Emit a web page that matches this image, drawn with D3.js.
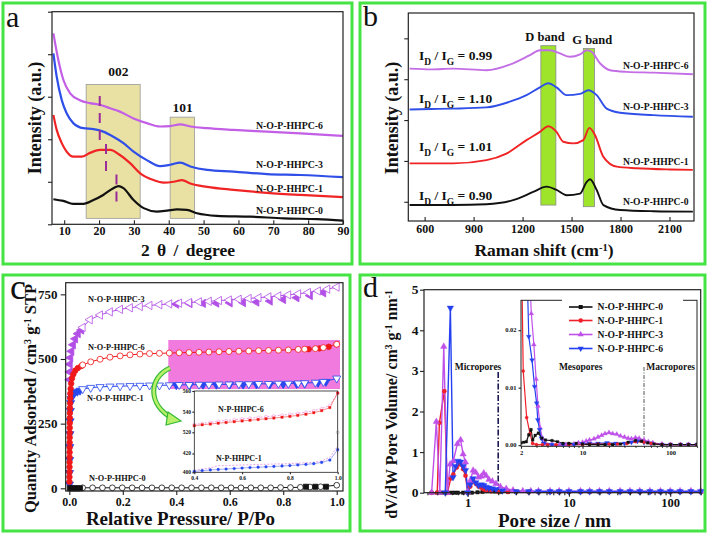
<!DOCTYPE html>
<html><head><meta charset="utf-8">
<script src="https://cdn.jsdelivr.net/npm/d3@7/dist/d3.min.js"></script>
<style>body{margin:0;background:#fff}svg{display:block}</style>
</head><body><svg id="fig" width="709" height="534"></svg>
<script>
// ---------------- DATA ----------------
// Panel a: XRD
const xrdNames = ["N-O-P-HHPC-6","N-O-P-HHPC-3","N-O-P-HHPC-1","N-O-P-HHPC-0"];
const xrd6 = [[6.9,4.49],[8.3,3.87],[9.75,3.40],[11.7,3.08],[14.5,2.92],[17.4,2.85],[20.3,2.81],[23.2,2.73],[26,2.65],[29.9,2.49],[33.7,2.38],[37.5,2.30],[40.4,2.31],[43.3,2.35],[46.2,2.30],[51,2.26],[58.6,2.22],[68.2,2.18],[77.8,2.14],[90,2.08]];
const xrd3 = [[6.9,4.02],[7.85,3.47],[9.3,2.92],[10.7,2.61],[12.6,2.38],[15.5,2.26],[18.4,2.24],[21.2,2.18],[24.1,2.06],[27,1.91],[29.9,1.71],[33.7,1.51],[37.5,1.37],[40.4,1.40],[43.3,1.45],[46.2,1.36],[51,1.28],[58.6,1.24],[68.2,1.18],[77.8,1.16],[90,1.11]];
const xrd1 = [[6.9,2.57],[7.85,2.22],[9.3,1.91],[10.7,1.71],[12.6,1.59],[15.0,1.59],[17.4,1.68],[20.3,1.75],[23.2,1.75],[26,1.63],[28.9,1.44],[31.8,1.20],[35.6,1.04],[38.5,0.98],[41.4,1.00],[43.8,1.04],[46.2,0.96],[51,0.88],[58.6,0.81],[68.2,0.74],[77.8,0.69],[90,0.64]];
const xrd0 = [[6.9,0.59],[9.75,0.55],[12.6,0.48],[15.5,0.48],[18.4,0.57],[21.2,0.69],[24.1,0.85],[25.6,0.90],[27,0.85],[29.9,0.57],[32.8,0.38],[36.6,0.30],[39.5,0.32],[42.4,0.35],[45.2,0.34],[48.1,0.26],[53.8,0.20],[63.4,0.18],[73,0.14],[82.6,0.12],[90,0.085]];
const xrdBoxes = [{label:"002", x0:16.3, x1:31.8, top:3.29, bottom:0.14}, {label:"101", x0:40.4, x1:47.4, top:2.52, bottom:0.14}];
const xrdPeakMarks = [[20.2,3.02,1.83],[22,1.89,1.18],[25,1.17,0.45]];
const xrdTicks = [10,20,30,40,50,60,70,80,90];

// Panel b: Raman
const ramanNames = ["N-O-P-HHPC-6","N-O-P-HHPC-3","N-O-P-HHPC-1","N-O-P-HHPC-0"];
const ramanRatios = ["0.99","1.10","1.01","0.90"];
const raman6 = [[508,4.26],[640,4.24],[774,4.26],[979,4.22],[1142,4.39],[1245,4.59],[1306,4.71],[1367,4.71],[1429,4.63],[1490,4.55],[1552,4.61],[1593,4.71],[1623,4.67],[1674,4.39],[1736,4.22],[1838,4.18],[2002,4.16],[2243,4.12]];
const raman3 = [[508,3.26],[640,3.27],[774,3.28],[979,3.31],[1122,3.45],[1224,3.61],[1306,3.80],[1357,3.90],[1408,3.80],[1470,3.61],[1552,3.64],[1603,3.73],[1654,3.61],[1715,3.28],[1797,3.18],[2002,3.12],[2243,3.08]];
const raman1 = [[508,1.94],[640,1.94],[774,1.94],[979,2.02],[1101,2.18],[1224,2.51],[1306,2.71],[1357,2.85],[1408,2.71],[1449,2.47],[1511,2.43],[1572,2.51],[1609,2.81],[1644,2.63],[1695,2.10],[1777,1.86],[1900,1.82],[2104,1.79],[2243,1.78]];
const raman0 = [[508,0.92],[640,0.92],[774,0.92],[979,0.94],[1142,1.04],[1265,1.24],[1347,1.37],[1408,1.29],[1470,1.16],[1552,1.20],[1593,1.49],[1613,1.55],[1654,1.29],[1695,0.92],[1797,0.80],[2002,0.77],[2243,0.76]];
const ramanBands = [{label:"D band", x0:1312, x1:1404, top:4.82, bottom:0.92},{label:"G band", x0:1572, x1:1640, top:4.75, bottom:0.88}];
const ramanTicks = [600,900,1200,1500,1800,2100];

// Panel c: N2 isotherms (P/Po, cm3/g)
const iso3Ads = [[0.0005,420],[0.001,450],[0.002,480],[0.004,505],[0.008,530],[0.014,555],[0.022,578],[0.032,598],[0.045,612],[0.4,712],[0.45,714],[0.5,715],[0.55,716],[0.6,717],[0.65,718],[0.7,720],[0.75,724],[0.8,730],[0.85,737],[0.9,745],[0.95,756]];
const iso3Des = [[0.05,622],[0.077,652],[0.115,670],[0.152,682],[0.19,692],[0.227,698],[0.264,703],[0.3,707],[0.337,710],[0.374,713],[0.411,716],[0.448,718],[0.485,721],[0.522,723],[0.56,726],[0.597,728],[0.634,731],[0.671,734],[0.708,737],[0.745,740],[0.782,744],[0.819,748],[0.856,752],[0.893,757],[0.93,763],[0.965,770],[1.0,778]];
const iso6Ads = [[0.0005,25],[0.0006,44],[0.0007,63],[0.0008,82],[0.0009,101],[0.001,120],[0.0011,139],[0.0012,158],[0.0013,177],[0.0014,196],[0.0015,215],[0.0016,234],[0.0018,253],[0.002,272],[0.0022,291],[0.0025,310],[0.003,329],[0.0035,348],[0.004,367],[0.005,385],[0.007,405],[0.01,425],[0.015,441],[0.022,455],[0.032,465],[0.045,473],[0.895,538],[0.935,541],[0.97,547],[1.0,557]];
const iso6Des = [[0.05,477],[0.08,489],[0.115,499],[0.152,507],[0.19,512],[0.227,516],[0.264,519],[0.3,521],[0.337,522],[0.374,523],[0.411,524],[0.448,525],[0.485,526],[0.522,527],[0.56,528],[0.597,529],[0.634,530],[0.671,531],[0.708,532],[0.745,533],[0.782,534],[0.819,535],[0.856,537],[0.88,538],[0.92,540],[0.95,544],[1.0,557]];
const iso1Ads = [[0.0005,15],[0.001,60],[0.0015,110],[0.002,160],[0.0025,210],[0.003,260],[0.004,300],[0.005,330],[0.006,345],[0.009,355],[0.014,363],[0.02,369],[0.03,374],[0.04,378],[0.4,399],[0.45,399],[0.5,400],[0.55,400],[0.6,401],[0.65,401],[0.7,402],[0.75,402],[0.8,403],[0.85,404],[0.88,405],[0.93,408],[0.96,412]];
const iso1Des = [[0.05,384],[0.08,389],[0.115,392],[0.152,394],[0.19,395],[0.227,396],[0.264,397],[0.3,398],[0.337,398],[0.374,399],[0.411,400],[0.448,400],[0.485,401],[0.522,401],[0.56,402],[0.597,402],[0.634,403],[0.671,403],[0.708,404],[0.745,404],[0.782,405],[0.819,405],[0.856,406],[0.88,407],[0.92,409],[0.95,412],[1.0,425]];
const iso0Ads = [[0.002,0],[0.01,0],[0.02,0],[0.03,0],[0.04,0],[0.885,6],[0.92,6],[0.96,6]];
const iso0Des = [[0.05,2],[0.087,2],[0.124,2],[0.161,2],[0.198,2],[0.235,2],[0.272,2],[0.309,2],[0.346,2],[0.383,2],[0.42,2],[0.457,2],[0.494,2],[0.531,2],[0.568,2],[0.605,2],[0.642,2],[0.679,2],[0.716,2],[0.753,2],[0.79,3],[0.827,3],[0.864,4],[0.9,5],[0.94,6],[1.0,12]];
const isoTicksX = [0,0.2,0.4,0.6,0.8,1.0];
const isoTicksY = [0,250,500,750];
// inset of panel c (upper: N-P-HHPC-6, lower: N-P-HHPC-1)
const insX = [0.4,0.433,0.467,0.5,0.533,0.567,0.6,0.633,0.667,0.7,0.733,0.767,0.8,0.833,0.867,0.9,0.933,0.967,1.0];
const ins6Ads = [526.4,527.3,528,528.8,529.5,530.3,531,531.7,532.4,533.1,533.8,534.6,535.4,536.4,537.5,539,541,544,558];
const ins6Des = [527.5,528.6,529.6,530.6,531.4,532.2,533,533.7,534.4,535.1,535.8,536.6,537.4,538.3,539.4,541,543,546,558];
const ins1Ads = [401,401.8,402.5,403,403.5,404,404.5,405,405.4,405.8,406.2,406.7,407.2,407.8,408.4,409.2,410.5,413,424];
const ins1Des = [402,403.5,404.8,407,407.2,407.5,407.8,408,408.3,408.5,408.8,409,409.3,409.7,410.1,410.5,412,416,428];

// Panel d: pore size distribution (nm, cm3/g/nm)
const psdNames = ["N-O-P-HHPC-0","N-O-P-HHPC-1","N-O-P-HHPC-3","N-O-P-HHPC-6"];
const psd0 = [[0.44,0],[0.5,0],[0.55,0],[0.6,0],[0.65,0],[0.7,0],[0.75,0],[0.8,0],[0.9,0],[1.0,0],[1.1,0],[1.25,0.01],[1.4,0.02],[1.55,0.04],[1.7,0.06],[1.85,0.03],[2.1,0.02],[2.5,0.02],[3,0.02],[4,0.02],[5,0.02],[6.5,0.02],[8,0.02],[10,0.02],[13,0.02],[16,0.02],[20,0.02],[25,0.02],[32,0.02],[40,0.02],[50,0.02],[63,0.02],[80,0.02],[100,0.02],[125,0.02],[160,0.02],[200,0.02]];
const psd1 = [[0.44,0],[0.5,0],[0.525,1.72],[0.588,2.5],[0.63,0],[0.68,0.35],[0.72,0.45],[0.78,0.62],[0.84,0.7],[0.9,0.58],[0.95,0.42],[1.0,0],[1.06,0.15],[1.13,0.28],[1.2,0.22],[1.28,0.15],[1.36,0.12],[1.44,0.08],[1.52,0.05],[1.7,0.03],[2.0,0.02],[2.5,0.02],[3,0.02],[4,0.02],[5,0.02],[6.5,0.02],[8,0.02],[10,0.02],[13,0.02],[16,0.02],[20,0.02],[25,0.02],[32,0.02],[40,0.02],[50,0.02],[63,0.02],[80,0.02],[100,0.02],[125,0.02],[160,0.02],[200,0.02]];
const psd3 = [[0.44,0],[0.49,1.75],[0.53,0],[0.58,3.6],[0.63,0],[0.67,0.7],[0.72,0.78],[0.79,1.2],[0.85,1.3],[0.9,0.95],[0.95,0.75],[1.0,0.02],[1.06,0.3],[1.13,0.55],[1.2,0.5],[1.28,0.38],[1.36,0.4],[1.44,0.48],[1.52,0.42],[1.62,0.32],[1.75,0.28],[1.9,0.22],[2.1,0.15],[2.4,0.1],[2.8,0.06],[3.5,0.04],[4.2,0.04],[5,0.04],[6.5,0.04],[8,0.04],[10,0.04],[13,0.04],[16,0.04],[20,0.04],[25,0.04],[32,0.04],[40,0.04],[50,0.04],[63,0.04],[80,0.04],[100,0.04],[125,0.04],[160,0.04],[200,0.04]];
const psd6 = [[0.6,0],[0.674,4.55],[0.716,0.38],[0.76,0.65],[0.8,0.78],[0.85,0.76],[0.9,0.65],[0.95,0.55],[1.0,0.0],[1.06,0.2],[1.13,0.35],[1.2,0.25],[1.28,0.18],[1.36,0.2],[1.44,0.18],[1.52,0.14],[1.62,0.12],[1.75,0.1],[1.9,0.08],[2.2,0.05],[3,0.03],[4,0.03],[5,0.03],[6.5,0.03],[8,0.03],[10,0.03],[13,0.03],[16,0.03],[20,0.03],[25,0.03],[32,0.03],[40,0.03],[50,0.03],[63,0.03],[80,0.03],[100,0.03],[125,0.03],[160,0.03],[200,0.03]];
// inset of panel d
const ipsd0 = [[2.0,0.0004],[2.15,0.0005],[2.3,0.0006],[2.45,0.0018],[2.6,0.0027],[2.72,0.0009],[2.9,0.0017],[3.15,0.0021],[3.45,0.0012],[3.8,0.0009],[4.5,0.0008],[5.2,0.0006],[6,0.0003],[7,0.0003],[8.5,0.0003],[10,0.0002],[12,0.0001],[15,0.0001],[18,0.0001],[22,0.0001],[27,0.0002],[33,0.0005],[40,0.0008],[47,0.0007],[55,0.0004],[65,0.0002],[80,0.0001],[100,0.0001],[130,0.0001],[160,0.0001],[200,0.0001]];
const ipsd1 = [[2.02,0.035],[2.12,0.0129],[2.32,0.0048],[2.53,0.002],[2.71,0.0003],[3,0.0001],[3.5,0.0001],[4,0.0001],[5,0.0001],[7,0.0001],[10,0.0001],[12,0.0002],[15,0.0002],[20,0.0002],[25,0.0002],[32,0.0003],[40,0.0006],[50,0.0005],[60,0.0003],[80,0.0001],[100,0.0001],[130,0.0001],[160,0.0001],[200,0.0001]];
const ipsd3 = [[2.5,0.03],[2.62,0.0229],[2.8,0.0175],[2.97,0.0115],[3.12,0.0068],[3.3,0.003],[3.5,0.0012],[3.8,0.0003],[4.5,0.0001],[5.5,0.0001],[6.5,0.0001],[8,0.0002],[9,0.0004],[10,0.0005],[11,0.0007],[12,0.0009],[13.5,0.0011],[15,0.0014],[16.5,0.0017],[18,0.002],[20,0.0022],[22,0.002],[24.5,0.0019],[27,0.0016],[30,0.0014],[33,0.0012],[36,0.0011],[40,0.0013],[44,0.0012],[50,0.0009],[56,0.0006],[63,0.0004],[80,0.0002],[100,0.0001],[130,0.0001],[160,0.0001],[200,0.0001]];
const ipsd6 = [[2.35,0.03],[2.45,0.0189],[2.67,0.0148],[2.85,0.0102],[3.01,0.0073],[3.1,0.0044],[3.25,0.0027],[3.4,0.0012],[3.6,0.0003],[4,0.0001],[4.5,0.0001],[6,0.0001],[8,0.0001],[10,0.0002],[12,0.0003],[15,0.0003],[19,0.0004],[24,0.0003],[30,0.0003],[36,0.0005],[42,0.0007],[50,0.0005],[60,0.0003],[80,0.0001],[100,0.0001],[130,0.0001],[160,0.0001],[200,0.0001]];
const psdTicksY = [0,1,2,3,4,5];
const psdMajor = [1,10,100];
const psdMinor = [0.4,0.5,0.6,0.7,0.8,0.9,2,3,4,5,6,7,8,9,20,30,40,50,60,70,80,90,200];
const ipsdTicksY = [0,0.01,0.02];

// ---------------- DRAWING ----------------
const FONT = "'Liberation Serif','Times New Roman',serif";
const svg = d3.select("#fig").attr("font-family", FONT).attr("font-weight","bold");
svg.append("rect").attr("width",709).attr("height",534).attr("fill","#fff");
const layerMarks = svg.append("g");
const layerText = svg.append("g");

const C = {purple:"#c25fe6", blue:"#2f4fe8", red:"#f02424", black:"#111"};

function frame(x0,y0,x1,y1,w){ layerMarks.append("rect").attr("x",x0).attr("y",y0).attr("width",x1-x0).attr("height",y1-y0).attr("fill","none").attr("stroke","#222").attr("stroke-width",w||1.2); }
function styleAxis(g, fs){ g.attr("font-family",FONT).attr("font-size",fs).attr("font-weight","bold"); g.selectAll("path").remove(); g.selectAll("line").attr("stroke","#222").attr("stroke-width",1.1); g.selectAll("text").attr("fill","#111"); return g; }
function axisG(tr){ return layerMarks.append("g").attr("transform",tr); }
function drawLine(g, data, xs, ys, color, w, curve, dash){ g.append("path").datum(data).attr("fill","none").attr("stroke",color).attr("stroke-width",w).attr("stroke-linejoin","round").attr("stroke-dasharray",dash||null).attr("d", d3.line().x(d=>xs(d[0])).y(d=>ys(d[1])).curve(curve||d3.curveLinear)); }
function drawMarks(g, data, xs, ys, type, size, fill, stroke, rot, sw){ g.selectAll(null).data(data).join("path").attr("d", d3.symbol().type(type).size(size)).attr("transform", d=>`translate(${xs(d[0])},${ys(d[1])}) rotate(${rot||0})`).attr("fill",fill).attr("stroke",stroke).attr("stroke-width",sw||0.8); }
function txt(x,y,s,fs,anchor,opts){ const t = layerText.append("text").attr("x",x).attr("y",y).attr("font-size",fs).attr("text-anchor",anchor||"start").attr("fill",(opts&&opts.fill)||"#111").text(s); if(opts&&opts.weight) t.attr("font-weight",opts.weight); return t; }
function yLabels(scale, values, xRight, fs, fmt){ values.forEach(v=>txt(xRight, scale(v)+fs*0.34, fmt(v), fs, "end")); }
function richText(x,y,parts,fs,anchor,rotate){ const t = layerText.append("text").attr("font-size",fs).attr("text-anchor",anchor||"middle").attr("fill","#111");
  if(rotate) t.attr("transform",`translate(${x},${y}) rotate(-90)`); else t.attr("x",x).attr("y",y);
  parts.forEach(p=>{ const s=t.append("tspan").text(p.t); if(p.sup){s.attr("baseline-shift","super").attr("font-size",fs*0.6);} if(p.sub){s.attr("baseline-shift","sub").attr("font-size",fs*0.7);} });
  return t; }

// green panel borders
[[3,3,349,261],[360,3,345,261],[3,275,347,256],[360,275,345,256]].forEach(b=>layerMarks.append("rect").attr("x",b[0]).attr("y",b[1]).attr("width",b[2]).attr("height",b[3]).attr("fill","none").attr("stroke","#44e444").attr("stroke-width",3));

// ===== Panel a =====
{
  const x = d3.scaleLinear().domain([6.5,90]).range([52,343]);
  const y = d3.scaleLinear().domain([0,5]).range([224.3,11.7]);
  const g = layerMarks.append("g");
  xrdBoxes.forEach(b=>{ g.append("rect").attr("x",x(b.x0)).attr("y",y(b.top)).attr("width",x(b.x1)-x(b.x0)).attr("height",y(b.bottom)-y(b.top)).attr("fill","#e9e1a3").attr("stroke","#999").attr("stroke-width",0.8); });
  [[xrd6,C.purple],[xrd3,C.blue],[xrd1,C.red],[xrd0,C.black]].forEach(s=>drawLine(g,s[0],x,y,s[1],2.2,d3.curveMonotoneX));
  xrdPeakMarks.forEach(m=>g.append("line").attr("x1",x(m[0])).attr("x2",x(m[0])).attr("y1",y(m[1])).attr("y2",y(m[2])).attr("stroke","#9a2c9a").attr("stroke-width",2).attr("stroke-dasharray","10,7"));
  frame(52,11.7,343,224.3);
  styleAxis(axisG("translate(0,224.3)").call(d3.axisBottom(x).tickValues(xrdTicks).tickFormat(d3.format("d")).tickSizeInner(-4).tickSizeOuter(0).tickPadding(2)),12);
  styleAxis(axisG("translate(52,0)").call(d3.axisLeft(y).ticks(5).tickSize(4).tickFormat("")),12);
  txt(118.3,76,"002",13.5,"middle"); txt(182.7,111.5,"101",13.5,"middle");
  const lb=[128.5,167.5,191.5,214];
  xrdNames.forEach((n,i)=>txt(256,lb[i],n,9.8,"start"));
  richText(188,256,[{t:"2 θ / degree"}],17.5,"middle").attr("word-spacing","3px");
  richText(40.5,118,[{t:"Intensity (a.u.)"}],18,"middle",true);
  txt(6,27,"a",30,"start",{weight:"normal"});
}

// ===== Panel b =====
{
  const x = d3.scaleLinear().domain([500,2250]).range([408.3,694]);
  const y = d3.scaleLinear().domain([0.53,5.62]).range([221,13]);
  const g = layerMarks.append("g");
  ramanBands.forEach(b=>{ g.append("rect").attr("x",x(b.x0)).attr("y",y(b.top)).attr("width",x(b.x1)-x(b.x0)).attr("height",y(b.bottom)-y(b.top)).attr("fill","#9de42a").attr("stroke","#8a8a8a").attr("stroke-width",0.8); });
  [[raman6,"#c46ee6"],[raman3,C.blue],[raman1,C.red],[raman0,C.black]].forEach(s=>drawLine(g,s[0],x,y,s[1],1.9,d3.curveMonotoneX));
  frame(408.3,13,694,221);
  styleAxis(axisG("translate(0,221)").call(d3.axisBottom(x).tickValues(ramanTicks).tickFormat(d3.format("d")).tickSizeInner(-4).tickSizeOuter(0).tickPadding(3)),12);
  styleAxis(axisG("translate(408.3,0)").call(d3.axisLeft(y).tickValues([1,2,3,4,5]).tickSize(4).tickFormat("")),12);
  txt(545,40.5,"D band",12.5,"middle"); txt(592.3,43.5,"G band",12.5,"middle");
  const rb=[59.5,102.5,151,199.5];
  ramanRatios.forEach((r,i)=>richText(419,rb[i],[{t:"I"},{t:"D",sub:true},{t:" / I"},{t:"G",sub:true},{t:" = "+r}],13.5,"start"));
  const lb=[68.5,109.5,165,205];
  ramanNames.forEach((n,i)=>txt(623,lb[i],n,9.6,"start"));
  richText(544,255.5,[{t:"Raman shift (cm"},{t:"-1",sup:true},{t:")"}],17.5,"middle");
  richText(397.5,118,[{t:"Intensity (a.u.)"}],18,"middle",true);
  txt(363,26,"b",30,"start",{weight:"normal"});
}

// ===== Panel c =====
{
  const x = d3.scaleLinear().domain([-0.0135,1.0235]).range([65.7,343]);
  const y = d3.scaleLinear().domain([-10.4,795]).range([491,282.7]);
  const g = layerMarks.append("g");
  g.append("rect").attr("x",168.3).attr("y",340).attr("width",171.7).attr("height",49).attr("fill","#f07ade");
  const purple="#b24fe6", blue="#2748ee", red="#f01818";
  drawLine(g,iso3Des,x,y,purple,1,null); drawLine(g,iso6Des,x,y,red,1,null); drawLine(g,iso1Des,x,y,blue,1,null); drawLine(g,iso0Des,x,y,"#111",1,null);
  drawMarks(g,iso3Ads,x,y,d3.symbolTriangle,30,purple,purple,-90);
  drawMarks(g,iso3Des,x,y,d3.symbolTriangle,30,"#fff",purple,-90);
  drawMarks(g,iso1Ads,x,y,d3.symbolTriangle,28,blue,blue,180);
  drawMarks(g,iso1Des,x,y,d3.symbolTriangle,28,"#fff",blue,180);
  drawMarks(g,iso6Ads,x,y,d3.symbolCircle,24,red,red,0);
  drawMarks(g,iso6Des,x,y,d3.symbolCircle,28,"#fff",red,0);
  drawMarks(g,iso0Des,x,y,d3.symbolCircle,26,"#fff","#111",0);
  drawMarks(g,iso0Ads,x,y,d3.symbolSquare,26,"#111","#111",0);
  frame(65.7,282.7,343,491);
  styleAxis(axisG("translate(0,491)").call(d3.axisBottom(x).tickValues(isoTicksX).tickFormat(d3.format(".1f")).tickSize(4).tickPadding(2)),12);
  styleAxis(axisG("translate(65.7,0)").call(d3.axisLeft(y).tickValues(isoTicksY).tickFormat("").tickSize(5)),12.5);
  yLabels(y, isoTicksY, 57.5, 13, d3.format("d"));
  txt(88,302,"N-O-P-HHPC-3",8.3,"start"); txt(88,349.5,"N-O-P-HHPC-6",8.3,"start"); txt(87,401,"N-O-P-HHPC-1",8.3,"start"); txt(89,481,"N-O-P-HHPC-0",8.3,"start");
  // inset
  const ix = d3.scaleLinear().domain([0.4,1.0]).range([194.3,337.7]);
  const iyU = d3.scaleLinear().domain([520,560]).range([432.3,391]);
  const iyL = d3.scaleLinear().domain([400,420]).range([472.3,453.5]);
  layerMarks.append("rect").attr("x",181).attr("y",389.5).attr("width",159).attr("height",92).attr("fill","#fff");
  const ig = layerMarks.append("g");
  const up6a = insX.map((v,i)=>[v,ins6Ads[i]]), up6d = insX.map((v,i)=>[v,ins6Des[i]]);
  const lo1a = insX.map((v,i)=>[v,ins1Ads[i]]), lo1d = insX.map((v,i)=>[v,ins1Des[i]]);
  drawLine(ig,up6d,ix,iyU,"#f08ad8",0.8,null,"2,1.5"); drawLine(ig,up6a,ix,iyU,"#f03c3c",0.6,null);
  drawLine(ig,lo1d,ix,iyL,"#e592dc",0.8,null,"2,1.5"); drawLine(ig,lo1a,ix,iyL,"#6670ee",0.6,null);
  drawMarks(ig,up6d,ix,iyU,d3.symbolCircle,6,"#fff","#f08ad8",0,0.5);
  drawMarks(ig,up6a,ix,iyU,d3.symbolSquare,6,"#f01818","#f01818",0,0.3);
  drawMarks(ig,lo1a,ix,iyL,d3.symbolCircle,6,"#2748ee","#2748ee",0,0.3);
  ig.append("line").attr("x1",ix(1.0)).attr("x2",ix(1.0)).attr("y1",iyU(520)).attr("y2",iyL(420)).attr("stroke","#999").attr("stroke-width",0.6);
  ig.append("circle").attr("cx",ix(1.0)).attr("cy",iyU(520)).attr("r",1.4).attr("fill","#fff").attr("stroke","#888").attr("stroke-width",0.5);
  frame(194.3,391,337.7,472.3,0.8);
  styleAxis(axisG("translate(0,472.3)").call(d3.axisBottom(ix).tickValues([0.4,0.6,0.8,1.0]).tickFormat(d3.format(".1f")).tickSize(2).tickPadding(2)),5.5);
  styleAxis(axisG("translate(194.3,0)").call(d3.axisLeft(iyU).tickValues([520,540,560]).tickFormat("").tickSize(2)),5.5);
  styleAxis(axisG("translate(194.3,0)").call(d3.axisLeft(iyL).tickValues([400,420]).tickFormat("").tickSize(2)),5.5);
  yLabels(iyU,[520,540,560],191,5.5,d3.format("d")); yLabels(iyL,[400,420],191,5.5,d3.format("d"));
  txt(218,411.5,"N-P-HHPC-6",8,"start"); txt(216,460.5,"N-P-HHPC-1",8,"start");
  // green arrow
  layerMarks.append("path").attr("d","M170,368 C148,378 148,405 172,418").attr("fill","none").attr("stroke","#36b836").attr("stroke-width",5);
  layerMarks.append("path").attr("d","M170,368 C148,378 148,405 172,418").attr("fill","none").attr("stroke","#b9f06a").attr("stroke-width",2.6);
  layerMarks.append("path").attr("d","M168,412 L181,421 L166,425 Z").attr("fill","#b9f06a").attr("stroke","#36b836").attr("stroke-width",1.2);
  richText(180.5,525,[{t:"Relative Pressure/ P/Po"}],19,"middle");
  richText(36,398.5,[{t:"Quantity Adsorbed / cm"},{t:"3",sup:true},{t:" g"},{t:"-1",sup:true},{t:" STP"}],16.5,"middle",true);
  txt(10,299,"c",36,"start",{weight:"normal"});
}

// ===== Panel d =====
{
  const x = d3.scaleLog().domain([0.37,200]).range([424,700.7]);
  const y = d3.scaleLinear().domain([0,5]).range([492.7,289.7]);
  const g = layerMarks.append("g");
  const purple="#c050ea", blue="#2440f0", red="#f0202a";
  g.append("line").attr("x1",x(2)).attr("x2",x(2)).attr("y1",y(2.97)).attr("y2",y(0)).attr("stroke","#1a1a55").attr("stroke-width",1.6).attr("stroke-dasharray","6,2,1.5,2");
  drawLine(g,psd0,x,y,"#111",1.4); drawLine(g,psd1,x,y,red,1.4); drawLine(g,psd3,x,y,purple,1.4); drawLine(g,psd6,x,y,blue,1.4);
  drawMarks(g,psd0,x,y,d3.symbolSquare,12,"#111","#111",0,0.4);
  drawMarks(g,psd1,x,y,d3.symbolCircle,14,red,red,0,0.4);
  drawMarks(g,psd3,x,y,d3.symbolTriangle,18,purple,purple,0,0.4);
  drawMarks(g,psd6,x,y,d3.symbolTriangle,18,blue,blue,180,0.4);
  frame(424,289.7,700.7,492.7);
  styleAxis(axisG("translate(0,492.7)").call(d3.axisBottom(x).tickValues(psdMajor).tickFormat(d3.format("d")).tickSize(4).tickPadding(1)),12.5);
  styleAxis(axisG("translate(0,492.7)").call(d3.axisBottom(x).tickValues(psdMinor).tickFormat("").tickSize(2.5)),12);
  styleAxis(axisG("translate(424,0)").call(d3.axisLeft(y).tickValues(psdTicksY).tickFormat("").tickSize(4)),13);
  yLabels(y, psdTicksY, 418.5, 13.5, d3.format("d"));
  txt(478,369.5,"Micropores",9.5,"middle");
  // inset
  const ix = d3.scaleLog().domain([2,200]).range([521,697]);
  const iy = d3.scaleLinear().domain([-0.0002,0.0252]).range([446.3,300.3]);
  layerMarks.append("defs").append("clipPath").attr("id","insd").append("rect").attr("x",521).attr("y",300.3).attr("width",176).attr("height",146);
  const cg = layerMarks.append("g").attr("clip-path","url(#insd)");
  cg.append("line").attr("x1",ix(50)).attr("x2",ix(50)).attr("y1",367).attr("y2",iy(0)).attr("stroke","#555").attr("stroke-width",1).attr("stroke-dasharray","4,1.5,1,1.5");
  drawLine(cg,ipsd3,ix,iy,purple,1.2); drawLine(cg,ipsd6,ix,iy,blue,1.2); drawLine(cg,ipsd1,ix,iy,red,1.2); drawLine(cg,ipsd0,ix,iy,"#111",1.2);
  drawMarks(cg,ipsd3,ix,iy,d3.symbolTriangle,10,purple,purple,0,0.3);
  drawMarks(cg,ipsd6,ix,iy,d3.symbolTriangle,10,blue,blue,180,0.3);
  drawMarks(cg,ipsd1,ix,iy,d3.symbolCircle,8,red,red,0,0.3);
  drawMarks(cg,ipsd0,ix,iy,d3.symbolSquare,7,"#111","#111",0,0.3);
  frame(521,300.3,697,446.3,1);
  styleAxis(axisG("translate(0,446.3)").call(d3.axisBottom(ix).tickValues([2,10,100]).tickFormat(d3.format("d")).tickSize(2.5).tickPadding(2)),6.5);
  styleAxis(axisG("translate(0,446.3)").call(d3.axisBottom(ix).tickValues([3,4,5,6,7,8,9,20,30,40,50,60,70,80,90,200]).tickFormat("").tickSize(1.5)),6.5);
  styleAxis(axisG("translate(521,0)").call(d3.axisLeft(iy).tickValues(ipsdTicksY).tickFormat("").tickSize(2.5)),6.5);
  yLabels(iy, ipsdTicksY, 516.5, 6.5, d3.format(".2f"));
  txt(580.7,370,"Mesopores",9.5,"middle"); txt(670.7,370,"Macropores",9.5,"middle");
  layerMarks.append("rect").attr("x",562).attr("y",297).attr("width",121).attr("height",58).attr("fill","#fff");
  const lc = ["#111",red,purple,blue], lt=[d3.symbolSquare,d3.symbolCircle,d3.symbolTriangle,d3.symbolTriangle], lr=[0,0,0,180];
  const ly=[307,320.5,334.5,348.5];
  psdNames.forEach((n,i)=>{
    layerMarks.append("line").attr("x1",569).attr("x2",592.5).attr("y1",ly[i]).attr("y2",ly[i]).attr("stroke",lc[i]).attr("stroke-width",1.6);
    layerMarks.append("path").attr("d",d3.symbol().type(lt[i]).size(16)).attr("transform",`translate(580.7,${ly[i]}) rotate(${lr[i]})`).attr("fill",lc[i]);
    txt(597.5,ly[i]+3.3,n,9.6,"start");
  });
  richText(554.5,526.5,[{t:"Pore size / nm"}],19,"middle");
  richText(397,404.5,[{t:"dV/dW Pore Volume/ cm"},{t:"3",sup:true},{t:" g"},{t:"-1",sup:true},{t:" nm"},{t:"-1",sup:true}],16,"middle",true);
  txt(363,297,"d",30,"start",{weight:"normal"});
}
</script></body></html>
